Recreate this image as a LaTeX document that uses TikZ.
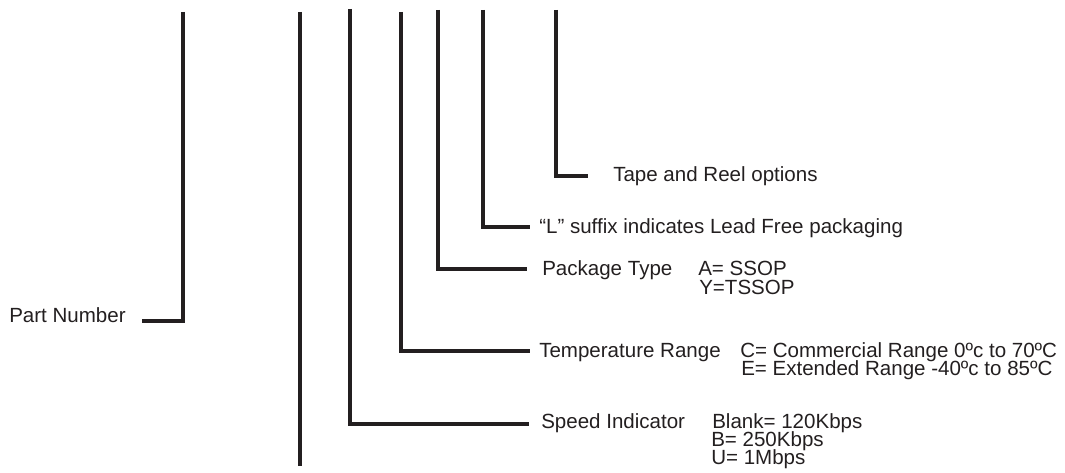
\documentclass[tikz,border=0pt]{standalone}
\usepackage{fontspec}
\setmainfont{Liberation Sans}
\usetikzlibrary{positioning}
\definecolor{leadInk}{RGB}{35,31,32}

\begin{document}
\begin{tikzpicture}[x=0.75pt,y=-0.75pt,
          lead/.style={draw=leadInk,line width=2.3pt},
          txt/.style={anchor=base west,inner sep=0pt,text=leadInk,
                      font=\fontsize{15.4}{18}\selectfont},
        ]
        \useasboundingbox (0,0) rectangle (1065,473);

        % TOPS OF THE LEADS
        \coordinate (pnTop)   at (183,12);
        \coordinate (grpTop)  at (300,12);
        \coordinate (spdTop)  at (350,9);
        \coordinate (tmpTop)  at (401,12);
        \coordinate (pkgTop)  at (438,10);
        \coordinate (lfTop)   at (483,10);
        \coordinate (trTop)   at (556,10);

        % ENDS OF THE LEADS
        \coordinate (pnEnd)   at (142,321);
        \coordinate (grpEnd)  at (300,466);
        \coordinate (spdEnd)  at (529,424);
        \coordinate (tmpEnd)  at (530,351);
        \coordinate (pkgEnd)  at (527,269);
        \coordinate (lfEnd)   at (530,227);
        \coordinate (trEnd)   at (588,176);

        % LABELS
        \node[txt] (trLbl)  at (613,182) {Tape and Reel options};
        \node[txt] (lfLbl)  at (539,234) {“L” suffix indicates Lead Free packaging};
        \node[txt] (pkgLbl) at (542,276) {Package Type};
        \node[txt] (pkgA)   at (698,276) {A= SSOP};
        \node[txt] (pkgY)   at (699,295) {Y=TSSOP};
        \node[txt] (tmpLbl) at (539,358) {Temperature Range};
        \node[txt] (tmpC)   at (740,358) {C= Commercial Range 0ºc to 70ºC};
        \node[txt] (tmpE)   at (741,376) {E= Extended Range -40ºc to 85ºC};
        \node[txt] (spdLbl) at (541,429) {Speed Indicator};
        \node[txt] (spdBl)  at (712,429) {Blank= 120Kbps};
        \node[txt] (spdB)   at (711,447) {B= 250Kbps};
        \node[txt] (spdU)   at (711,465) {U= 1Mbps};
        \node[txt] (pnLbl)  at (9,323) {Part Number};

        % LEADS
        \draw[lead] (pnTop)  |- (pnEnd);
        \draw[lead] (grpTop) -- (grpEnd);
        \draw[lead] (spdTop) |- (spdEnd);
        \draw[lead] (tmpTop) |- (tmpEnd);
        \draw[lead] (pkgTop) |- (pkgEnd);
        \draw[lead] (lfTop)  |- (lfEnd);
        \draw[lead] (trTop)  |- (trEnd);
      \end{tikzpicture}
\end{document}
